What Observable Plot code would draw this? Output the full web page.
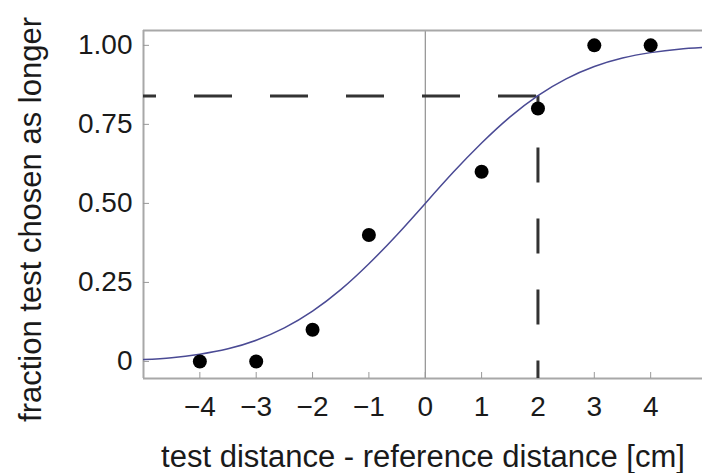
<!DOCTYPE html>
<html>
<head>
<meta charset="utf-8">
<script src="https://cdn.jsdelivr.net/npm/d3@7"></script>
<script src="https://cdn.jsdelivr.net/npm/@observablehq/plot@0.6"></script>
<style>
  html, body { margin: 0; padding: 0; background: #fff; }
  #chart svg { display: block; }
</style>
</head>
<body>
<div id="chart"></div>
<script>
// Tick positions and labels
const xTicks = [-4, -3, -2, -1, 0, 1, 2, 3, 4];
const xTickLabels = ["\u22124", "\u22123", "\u22122", "\u22121", "0", "1", "2", "3", "4"];
const yTicks = [0, 0.25, 0.5, 0.75, 1];
const yTickLabels = ["0", "0.25", "0.50", "0.75", "1.00"];

// Observed data points
const obsX = [-4, -3, -2, -1, 1, 2, 3, 4];
const obsY = [0, 0, 0.1, 0.4, 0.6, 0.8, 1, 1];

// Fitted psychometric curve
const curveX = [-5, -4.5, -4, -3.5, -3, -2.5, -2, -1.5, -1, -0.5, 0, 0.5, 1, 1.5, 2, 2.5, 3, 3.5, 4, 4.5, 5];
const curveY = [0.006, 0.012, 0.023, 0.04, 0.067, 0.106, 0.159, 0.227, 0.309, 0.401, 0.5, 0.599, 0.691, 0.773, 0.841, 0.894, 0.933, 0.96, 0.977, 0.988, 0.994];

// Threshold marker
const thresholdX = 2;
const thresholdY = 0.84;

// Axis extents
const xDomain = [-5, 4.92];
const yDomain = [-0.054, 1.047];

const xLabel = "test distance - reference distance [cm]";
const yLabel = "fraction test chosen as longer";

const points = obsX.map((x, i) => ({x, y: obsY[i]}));
const curve = curveX.map((x, i) => ({x, y: curveY[i]}));

const font = "'Liberation Sans', Arial, Helvetica, sans-serif";

const chart = Plot.plot({
  width: 702,
  height: 473,
  marginLeft: 143,
  marginRight: 0,
  marginTop: 30,
  marginBottom: 95,
  style: {fontFamily: font, background: "#fff", color: "#1a1a1a"},
  x: {domain: xDomain},
  y: {domain: yDomain},
  marks: [
    // vertical line at zero
    Plot.ruleX([0], {stroke: "#7a7a7a", strokeWidth: 1}),
    // frame: left, top, bottom
    Plot.ruleX([xDomain[0]], {stroke: "#a8a8a8", strokeWidth: 2}),
    Plot.ruleY([yDomain[0], yDomain[1]], {stroke: "#a8a8a8", strokeWidth: 2}),
    // inward ticks
    Plot.axisX({ticks: xTicks, tickSize: -6, tickFormat: () => "", stroke: "#999", label: null}),
    Plot.axisY({ticks: yTicks, tickSize: -6, tickFormat: () => "", stroke: "#999", label: null}),
    // tick labels
    Plot.axisX({ticks: xTicks, tickSize: 0, tickPadding: 18, fontSize: 28,
      tickFormat: d => xTickLabels[xTicks.indexOf(d)], label: null}),
    Plot.axisY({ticks: yTicks, tickSize: 0, tickPadding: 11, fontSize: 28,
      tickFormat: d => yTickLabels[yTicks.indexOf(d)], label: null}),
    // threshold dashed lines
    Plot.ruleY([thresholdY], {x1: xDomain[0], x2: thresholdX, stroke: "#333", strokeWidth: 3,
      strokeDasharray: "38,38", strokeDashoffset: 25}),
    Plot.ruleX([thresholdX], {y1: thresholdY, y2: yDomain[0], stroke: "#333", strokeWidth: 3,
      strokeDasharray: "35,36", strokeDashoffset: 19}),
    // fitted curve
    Plot.line(curve, {x: "x", y: "y", curve: "natural", stroke: "#4a4a94", strokeWidth: 1.5, clip: true}),
    // observations
    Plot.dot(points, {x: "x", y: "y", r: 7, fill: "#000", stroke: "none"}),
    // axis titles
    Plot.text([xLabel], {text: d => d, frameAnchor: "bottom", textAnchor: "middle", lineAnchor: "middle",
      dy: 79, fontSize: 31, fill: "#1a1a1a"}),
    Plot.text([yLabel], {text: d => d, frameAnchor: "left", textAnchor: "middle", lineAnchor: "middle",
      rotate: -90, dx: -112, dy: 15, fontSize: 31, fill: "#1a1a1a"})
  ]
});

document.getElementById("chart").appendChild(chart);
</script>
</body>
</html>
